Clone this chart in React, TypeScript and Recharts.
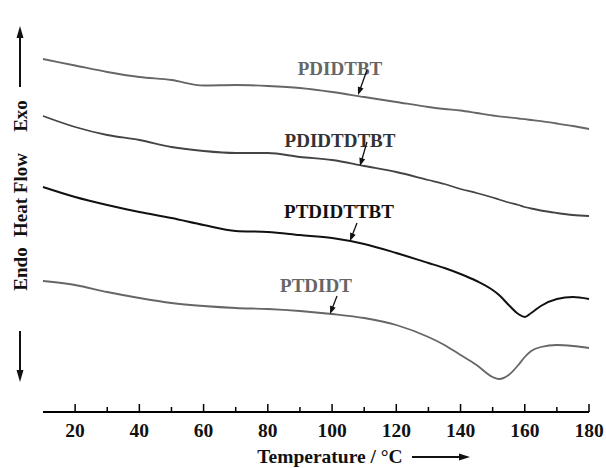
import { LineChart, Line, XAxis, YAxis } from 'recharts';

// temperature grid (°C) shared by all four DSC traces
const temps = [10, 20, 30, 40, 50, 60, 70, 80, 90, 100, 110, 120, 130, 135, 140, 145, 150, 152, 155, 158, 160, 162, 165, 170, 175, 180];

// heat flow, arbitrary units (exo up)
const pdidtbt = [353, 346.5, 340, 335, 332, 326.5, 327, 326, 324, 320, 315, 310, 305, 303, 301.5, 299, 296.5, 295.7, 294.7, 293.5, 292.8, 292, 290.8, 288.5, 286, 283];
const pdidtdtbt = [296, 285, 277, 272, 265, 261, 259, 259, 255, 252, 246, 240, 232, 228, 223, 219, 214.5, 212.5, 209.5, 207, 205, 203.5, 201.5, 199, 197, 196];
const ptdidttbt = [225, 215, 207, 200, 194, 187, 181, 180, 177, 174, 168, 159, 149, 144, 138, 131, 122, 117, 107, 98, 95, 99, 106, 113, 115, 113];
const ptdidt = [131, 127, 120, 114, 109, 106, 104, 103, 101, 98, 94, 87, 75, 67, 57, 47, 35, 33, 37, 47, 55, 61, 65, 67, 66, 64];

const xTicks = [20, 30, 40, 50, 60, 70, 80, 90, 100, 110, 120, 130, 140, 150, 160, 170, 180];

const data = temps.map((t, i) => ({
  t,
  a: pdidtbt[i],
  b: pdidtdtbt[i],
  c: ptdidttbt[i],
  d: ptdidt[i],
}));

const FONT = '"Liberation Serif", "Times New Roman", serif';

const XTick = ({ x, y, payload }: any) => {
  const major = payload.value % 20 === 0;
  return (
    <g>
      <line x1={x} x2={x} y1={y} y2={y - (major ? 8 : 5)} stroke="#000" strokeWidth={1.5} />
      {major && (
        <text x={x} y={y + 25} textAnchor="middle" fontFamily={FONT} fontWeight="bold" fontSize={19.5} fill="#111">
          {payload.value}
        </text>
      )}
    </g>
  );
};

const Arrow = ({ x1, y1, x2, y2, hl = 8, hw = 3, sw = 1.3 }: any) => {
  const dx = x2 - x1;
  const dy = y2 - y1;
  const len = Math.sqrt(dx * dx + dy * dy);
  const ux = dx / len;
  const uy = dy / len;
  const bx = x2 - ux * hl;
  const by = y2 - uy * hl;
  return (
    <g>
      <line x1={x1} y1={y1} x2={bx + ux} y2={by + uy} stroke="#111" strokeWidth={sw} />
      <polygon
        points={`${x2},${y2} ${bx - uy * hw},${by + ux * hw} ${bx + uy * hw},${by - ux * hw}`}
        fill="#111"
      />
    </g>
  );
};

const labelStyle = { fontFamily: FONT, fontWeight: 'bold' as const, fontSize: 19 };

export default function App() {
  return (
    <div style={{ position: 'absolute', left: 0, top: 0, width: 606, height: 468, background: '#fff' }}>
      <LineChart width={606} height={468} data={data} margin={{ top: 10, right: 17, bottom: 0, left: 43 }}>
        <XAxis
          dataKey="t"
          type="number"
          domain={[10, 180]}
          ticks={xTicks}
          tickLine={false}
          tickSize={0}
          tickMargin={0}
          tick={<XTick />}
          axisLine={{ stroke: '#000', strokeWidth: 2 }}
          height={56}
          interval={0}
        />
        <YAxis
          type="number"
          domain={[0, 402]}
          tick={false}
          tickLine={false}
          width={0}
          axisLine={{ stroke: '#000', strokeWidth: 2 }}
        />
        <Line type="monotone" dataKey="a" stroke="#666" strokeWidth={1.8} dot={false} isAnimationActive={false} />
        <Line type="monotone" dataKey="b" stroke="#444" strokeWidth={1.8} dot={false} isAnimationActive={false} />
        <Line type="monotone" dataKey="c" stroke="#111" strokeWidth={2} dot={false} isAnimationActive={false} />
        <Line type="monotone" dataKey="d" stroke="#666" strokeWidth={1.8} dot={false} isAnimationActive={false} />
      </LineChart>
      <svg width={606} height={468} style={{ position: 'absolute', left: 0, top: 0, pointerEvents: 'none' }}>
        {/* curve labels */}
        <text x={340} y={75} textAnchor="middle" fill="#666" {...labelStyle}>PDIDTBT</text>
        <Arrow x1={367} y1={70} x2={358} y2={95} />
        <text x={340} y={147} textAnchor="middle" fill="#333" {...labelStyle}>PDIDTDTBT</text>
        <Arrow x1={367} y1={142} x2={360} y2={166} />
        <text x={339} y={218} textAnchor="middle" fill="#111" {...labelStyle}>PTDIDTTBT</text>
        <Arrow x1={357} y1={223} x2={350} y2={241} />
        <text x={316} y={292} textAnchor="middle" fill="#666" {...labelStyle}>PTDIDT</text>
        <Arrow x1={337} y1={296} x2={330} y2={314} />

        {/* y axis title */}
        <text transform="rotate(-90 27 116)" x={27} y={116} textAnchor="middle" fill="#111" {...labelStyle}>Exo</text>
        <text transform="rotate(-90 27 195)" x={27} y={195} textAnchor="middle" fill="#111" {...labelStyle}>Heat Flow</text>
        <text transform="rotate(-90 27 269)" x={27} y={269} textAnchor="middle" fill="#111" {...labelStyle}>Endo</text>
        <Arrow x1={20} y1={87} x2={20} y2={26} hl={12} hw={3.5} sw={2} />
        <Arrow x1={20} y1={331} x2={20} y2={382} hl={12} hw={3.5} sw={2} />

        {/* x axis title */}
        <text x={330} y={463} textAnchor="middle" fill="#111" {...labelStyle} fontSize={19.5}>Temperature / °C</text>
        <Arrow x1={412} y1={457} x2={470} y2={457} hl={11} hw={3.5} sw={2} />
      </svg>
    </div>
  );
}
